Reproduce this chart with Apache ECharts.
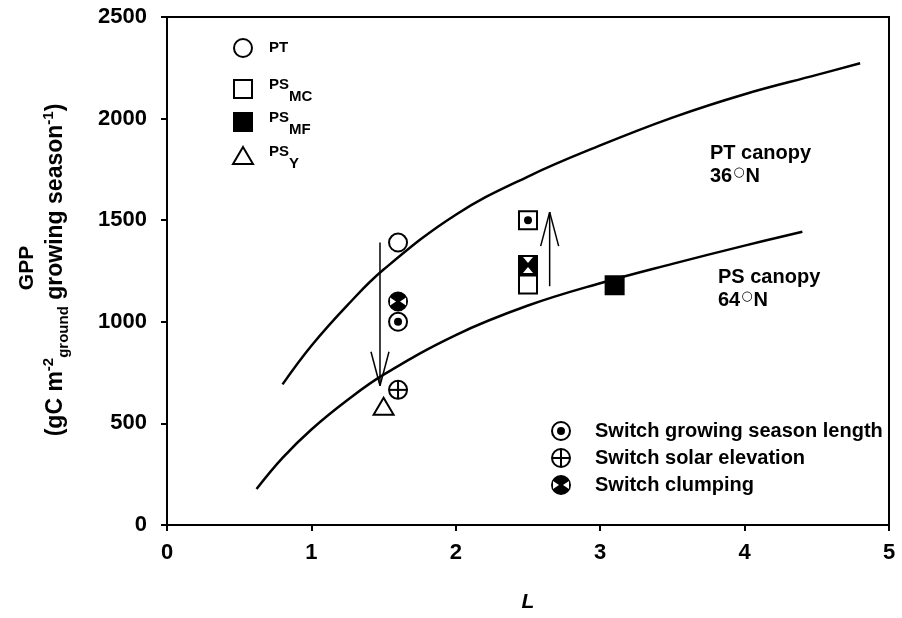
<!DOCTYPE html>
<html><head><meta charset="utf-8">
<script src="https://cdn.jsdelivr.net/npm/echarts@6/dist/echarts.min.js"></script>
<style>html,body{margin:0;padding:0;background:#fff}#c{width:902px;height:618px}</style>
</head><body><div id="c"></div>
<script>
// ---- Data ----
const xTicks = [0, 1, 2, 3, 4, 5];
const yTicks = [0, 500, 1000, 1500, 2000, 2500];

// Model curves
const ptCurveL   = [0.8, 1.0, 1.25, 1.5, 2.0, 2.5, 3.0, 3.5, 4.0, 4.5, 4.8];
const ptCurveGPP = [692, 882, 1082, 1257, 1527, 1715, 1868, 2005, 2120, 2215, 2272];
const psCurveL   = [0.62, 0.8, 1.0, 1.25, 1.5, 2.0, 2.5, 3.0, 3.5, 4.0, 4.4];
const psCurveGPP = [177, 330, 470, 615, 740, 935, 1080, 1190, 1285, 1375, 1443];

// Site points
const ptL = [1.6],   ptGPP = [1390];
const psmcL = [2.5], psmcGPP = [1183];
const psmfL = [3.1], psmfGPP = [1180];
const psyL = [1.5],  psyGPP = [582];

// Switch experiments
const gsL = [1.6, 2.5],     gsGPP = [1000, 1500];
const solarL = [1.6],       solarGPP = [665];
const clumpL = [1.6, 2.5],  clumpGPP = [1100, 1280];

// Arrows
const arrowL = [1.475, 2.65];
const arrowFrom = [1390, 1175];
const arrowTo = [685, 1540];

// ---- Drawing helpers ----
const FONT = '"Liberation Sans", Arial, sans-serif';
function marker(kind, cx, cy) {
  const r = 9, s = 9, lw = 2;
  const st = (fill) => ({ fill: fill, stroke: '#000', lineWidth: lw });
  switch (kind) {
    case 'circle': return [{ type: 'circle', shape: { cx, cy, r }, style: st('#fff') }];
    case 'square': return [{ type: 'rect', shape: { x: cx - s, y: cy - s, width: 2 * s, height: 2 * s }, style: st('#fff') }];
    case 'squareFilled': return [{ type: 'rect', shape: { x: cx - s, y: cy - s, width: 2 * s, height: 2 * s }, style: st('#000') }];
    case 'triangle': return [{ type: 'polygon', shape: { points: [[cx, cy - 9], [cx + 10, cy + 8], [cx - 10, cy + 8]] }, style: st('#fff') }];
    case 'gsCircle': return [
      { type: 'circle', shape: { cx, cy, r }, style: st('#fff') },
      { type: 'circle', shape: { cx, cy, r: 4 }, style: { fill: '#000' } }];
    case 'gsSquare': return [
      { type: 'rect', shape: { x: cx - s, y: cy - s, width: 2 * s, height: 2 * s }, style: st('#fff') },
      { type: 'circle', shape: { cx, cy, r: 4 }, style: { fill: '#000' } }];
    case 'solarCircle': return [
      { type: 'circle', shape: { cx, cy, r }, style: st('#fff') },
      { type: 'line', shape: { x1: cx - r, y1: cy, x2: cx + r, y2: cy }, style: { stroke: '#000', lineWidth: 2 } },
      { type: 'line', shape: { x1: cx, y1: cy - r, x2: cx, y2: cy + r }, style: { stroke: '#000', lineWidth: 2 } }];
    case 'clumpCircle': return [
      { type: 'circle', shape: { cx, cy, r }, style: st('#000') },
      { type: 'polygon', shape: { points: [[cx - r + 1, cy - 4], [cx - 2, cy], [cx - r + 1, cy + 4]] }, style: { fill: '#fff' } },
      { type: 'polygon', shape: { points: [[cx + r - 1, cy - 4], [cx + 2, cy], [cx + r - 1, cy + 4]] }, style: { fill: '#fff' } }];
    case 'clumpSquare': return [
      { type: 'rect', shape: { x: cx - s, y: cy - s, width: 2 * s, height: 2 * s }, style: st('#000') },
      { type: 'polygon', shape: { points: [[cx - 5, cy - s + 1], [cx + 5, cy - s + 1], [cx, cy - 2]] }, style: { fill: '#fff' } },
      { type: 'polygon', shape: { points: [[cx - 5, cy + s - 1], [cx + 5, cy + s - 1], [cx, cy + 2]] }, style: { fill: '#fff' } }];
  }
  return [];
}
function markerSeries(name, xs, ys, kinds, z) {
  return {
    type: 'custom', name: name, coordinateSystem: 'cartesian2d', z: z || 5,
    data: xs.map((x, i) => [x, ys[i], i]), encode: { x: 0, y: 1 },
    renderItem: function (params, api) {
      const p = api.coord([api.value(0), api.value(1)]);
      return { type: 'group', children: marker(kinds[api.value(2)], p[0], p[1]) };
    }
  };
}
function curveSeries(name, xs, ys) {
  return {
    type: 'line', name: name, data: xs.map((x, i) => [x, ys[i]]), smooth: 0.4,
    showSymbol: false, symbol: 'none', lineStyle: { color: '#000', width: 2.5 }, z: 3, silent: true
  };
}

const chart = echarts.init(document.getElementById('c'), null, { renderer: 'canvas' });
const option = {
  animation: false,
  backgroundColor: '#fff',
  grid: { left: 167, right: 13, top: 17, bottom: 93, show: true, borderColor: '#000', borderWidth: 2, backgroundColor: 'transparent' },
  xAxis: {
    type: 'value', min: xTicks[0], max: xTicks[xTicks.length - 1], interval: 1,
    axisLine: { show: true, lineStyle: { color: '#000', width: 2 } },
    axisTick: { show: true, inside: false, length: 6, lineStyle: { color: '#000', width: 2 } },
    axisLabel: { color: '#000', fontFamily: FONT, fontWeight: 'bold', fontSize: 22, margin: 17, formatter: v => String(v) },
    splitLine: { show: false },
    name: 'L', nameLocation: 'middle', nameGap: 67,
    nameTextStyle: { color: '#000', fontFamily: FONT, fontWeight: 'bold', fontStyle: 'italic', fontSize: 21 }
  },
  yAxis: {
    type: 'value', min: yTicks[0], max: yTicks[yTicks.length - 1], interval: 500,
    axisLine: { show: true, lineStyle: { color: '#000', width: 2 } },
    axisTick: { show: true, inside: false, length: 6, lineStyle: { color: '#000', width: 2 } },
    axisLabel: { color: '#000', fontFamily: FONT, fontWeight: 'bold', fontSize: 22, margin: 20, formatter: v => String(v) },
    splitLine: { show: false }
  },
  series: [
    curveSeries('PT canopy', ptCurveL, ptCurveGPP),
    curveSeries('PS canopy', psCurveL, psCurveGPP),
    {
      type: 'custom', name: 'arrows', coordinateSystem: 'cartesian2d', z: 4,
      data: arrowL.map((x, i) => [x, arrowFrom[i], arrowTo[i]]), encode: { x: 0, y: [1, 2] },
      renderItem: function (params, api) {
        const a = api.coord([api.value(0), api.value(1)]);
        const b = api.coord([api.value(0), api.value(2)]);
        const dir = b[1] > a[1] ? 1 : -1;
        const ls = { stroke: '#000', lineWidth: 1.5 };
        return { type: 'group', children: [
          { type: 'line', shape: { x1: a[0], y1: a[1], x2: b[0], y2: b[1] }, style: ls },
          { type: 'line', shape: { x1: b[0] - 9, y1: b[1] - dir * 34, x2: b[0], y2: b[1] }, style: ls },
          { type: 'line', shape: { x1: b[0] + 9, y1: b[1] - dir * 34, x2: b[0], y2: b[1] }, style: ls }
        ] };
      }
    },
    markerSeries('PT', ptL, ptGPP, ['circle']),
    markerSeries('PS_MC', psmcL, psmcGPP, ['square']),
    markerSeries('PS_MF', psmfL, psmfGPP, ['squareFilled']),
    markerSeries('PS_Y', psyL, psyGPP, ['triangle']),
    markerSeries('Switch growing season length', gsL, gsGPP, ['gsCircle', 'gsSquare']),
    markerSeries('Switch solar elevation', solarL, solarGPP, ['solarCircle']),
    markerSeries('Switch clumping', clumpL, clumpGPP, ['clumpCircle', 'clumpSquare'], 6)
  ],
  graphic: []
};

// Legend (top-left)
const tl = [
  { kind: 'circle', y: 48, text: '{p|PT}', dy: 0 },
  { kind: 'square', y: 89, text: '{b|PS}{s|MC}', dy: 2 },
  { kind: 'squareFilled', y: 122, text: '{b|PS}{s|MF}', dy: 2 },
  { kind: 'triangle', y: 156, text: '{b|PS}{s|Y}', dy: 2 }
];
const legendRich = {
  p: { fontFamily: FONT, fontWeight: 'bold', fontSize: 15, fill: '#000' },
  b: { fontFamily: FONT, fontWeight: 'bold', fontSize: 15, fill: '#000', padding: [0, 0, 12, 0] },
  s: { fontFamily: FONT, fontWeight: 'bold', fontSize: 15, fill: '#000', padding: [12, 0, 0, 0] }
};
tl.forEach(function (it) {
  option.graphic.push({ type: 'group', children: marker(it.kind, 243, it.y), z: 10 });
  option.graphic.push({ type: 'text', x: 269, y: it.y + it.dy, z: 10,
    style: { text: it.text, rich: legendRich, verticalAlign: 'middle', align: 'left', fill: '#000' } });
});
// Legend (bottom-right)
const br = [
  { kind: 'gsCircle', y: 431, text: 'Switch growing season length' },
  { kind: 'solarCircle', y: 458, text: 'Switch solar elevation' },
  { kind: 'clumpCircle', y: 485, text: 'Switch clumping' }
];
br.forEach(function (it) {
  option.graphic.push({ type: 'group', children: marker(it.kind, 561, it.y), z: 10 });
  option.graphic.push({ type: 'text', x: 595, y: it.y, z: 10,
    style: { text: it.text, fontFamily: FONT, fontWeight: 'bold', fontSize: 20, fill: '#000', verticalAlign: 'middle', align: 'left' } });
});
// Curve annotations
const annRich = {
  n: { fontFamily: FONT, fontWeight: 'bold', fontSize: 20, fill: '#000', lineHeight: 23 },
  d: { fontFamily: '"DejaVu Sans", sans-serif', fontWeight: 'normal', fontSize: 13, fill: '#000', padding: [0, 1, 7, 1] }
};
option.graphic.push({ type: 'text', x: 710, y: 142, z: 10,
  style: { text: '{n|PT canopy}\n{n|36}{d|\u25CB}{n|N}', rich: annRich, verticalAlign: 'top', align: 'left' } });
option.graphic.push({ type: 'text', x: 718, y: 266, z: 10,
  style: { text: '{n|PS canopy}\n{n|64}{d|\u25CB}{n|N}', rich: annRich, verticalAlign: 'top', align: 'left' } });
// Y axis title
option.graphic.push({ type: 'text', x: 27, y: 268, rotation: Math.PI / 2, z: 10,
  style: { text: '{t|GPP}', rich: { t: { fontFamily: FONT, fontWeight: 'bold', fontSize: 21, fill: '#000' } }, align: 'center', verticalAlign: 'middle' } });
option.graphic.push({ type: 'text', x: 56, y: 270, rotation: Math.PI / 2, z: 10,
  style: {
    text: '{t|(gC m}{sup|-2}{sub|ground}{t| growing season}{sup|-1}{t|)}',
    rich: {
      t: { fontFamily: FONT, fontWeight: 'bold', fontSize: 23, fill: '#000', padding: [4, 0, 4, 0] },
      sup: { fontFamily: FONT, fontWeight: 'bold', fontSize: 15, fill: '#000', padding: [0, 0, 15, 0] },
      sub: { fontFamily: FONT, fontWeight: 'bold', fontSize: 15, fill: '#000', padding: [15, 0, 0, 0] }
    },
    align: 'center', verticalAlign: 'middle'
  } });

chart.setOption(option);
</script>
</body></html>
